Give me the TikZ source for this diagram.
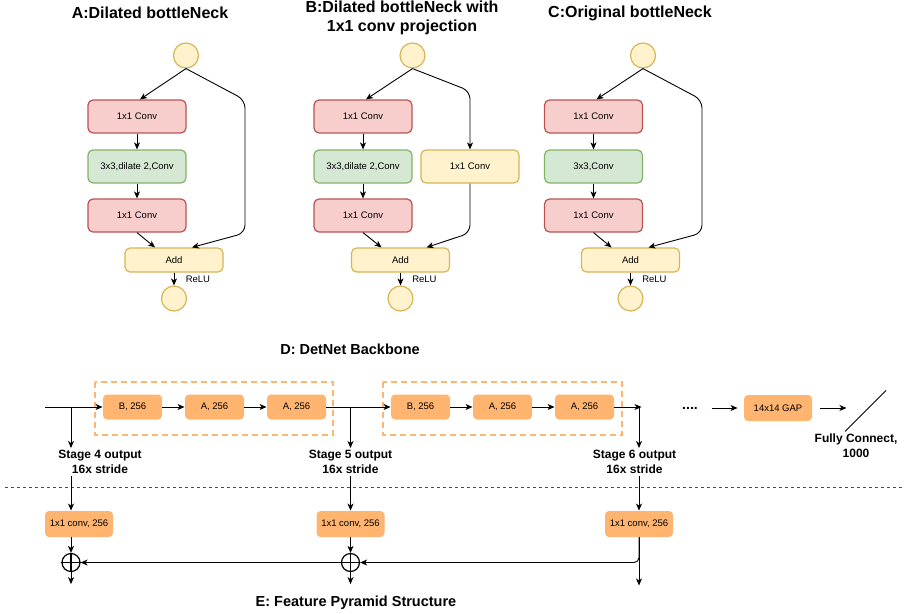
\documentclass[tikz,border=0pt]{standalone}
\usepackage{fontspec}
\setmainfont{Liberation Sans}
\usetikzlibrary{arrows.meta}
\definecolor{redfill}{HTML}{F8CECC}
\definecolor{redline}{HTML}{B85450}
\definecolor{greenfill}{HTML}{D5E8D4}
\definecolor{greenline}{HTML}{82B366}
\definecolor{yellowfill}{HTML}{FFF2CC}
\definecolor{yellowline}{HTML}{D6B656}
\definecolor{orangefill}{HTML}{FFB570}
\tikzset{>/.tip={Stealth[length=7pt,width=6pt,inset=2pt]},
  box/.style={rectangle, rounded corners=5pt, line width=1.2pt, inner sep=0pt, minimum width=98pt, font=\fontsize{9.5}{11}\selectfont},
  convr/.style={box, draw=redline, fill=redfill, minimum height=33pt},
  convg/.style={box, draw=greenline, fill=greenfill, minimum height=33pt},
  convy/.style={box, draw=yellowline, fill=yellowfill, minimum height=33pt},
  addbox/.style={box, draw=yellowline, fill=yellowfill, minimum height=24pt},
  inout/.style={circle, draw=yellowline, fill=yellowfill, line width=1.2pt, minimum size=25pt, inner sep=0pt},
  relu/.style={midway, anchor=west, xshift=8pt, font=\fontsize{9.5}{11}\selectfont},
  block/.style={rectangle, rounded corners=4pt, fill=orangefill, inner sep=0pt, minimum width=59pt, minimum height=25pt, font=\fontsize{9.5}{11}\selectfont},
  convblock/.style={block, minimum width=68pt, minimum height=26pt},
  stagebox/.style={draw=orangefill, dash pattern=on 6pt off 4pt, line width=1.3pt},
  sepline/.style={draw=red, dash pattern=on 3pt off 3pt, line width=0.8pt},
  heading/.style={font=\fontsize{16}{19.5}\selectfont\bfseries, align=center, inner sep=0pt},
  heading2/.style={font=\fontsize{14.5}{17}\selectfont\bfseries, inner sep=0pt},
  stagetext/.style={font=\fontsize{12}{14.5}\selectfont\bfseries, align=center, inner sep=2pt},
  plus/.style={circle, draw, line width=1.2pt, minimum size=18pt, inner sep=0pt}}
\begin{document}
\begin{tikzpicture}[x=1pt, y=-1pt, line width=0.9pt]
\useasboundingbox (0,0) rectangle (904,613);
% bottlenecks
\node[heading] (ta) at (150,13) {A:Dilated bottleNeck};
\node[heading] (tb) at (402,18) {B:Dilated bottleNeck with\\1x1 conv projection};
\node[heading] (tc) at (630,13) {C:Original bottleNeck};
\node[inout] (a0) at (186,55.5) {};
\node[convr] (a1) at (137,116.5) {1x1 Conv};
\node[convg] (a2) at (137,166.5) {3x3,dilate 2,Conv};
\node[convr] (a3) at (137,215.5) {1x1 Conv};
\node[addbox] (a4) at (174,260) {Add};
\node[inout] (a5) at (174,298.5) {};
\node[inout] (b0) at (412.5,55.5) {};
\node[convr] (b1) at (363,116.5) {1x1 Conv};
\node[convg] (b2) at (363,166.5) {3x3,dilate 2,Conv};
\node[convr] (b3) at (363,215.5) {1x1 Conv};
\node[convy] (b6) at (470,166.5) {1x1 Conv};
\node[addbox] (b4) at (400.5,260) {Add};
\node[inout] (b5) at (400.5,298.5) {};
\node[inout] (c0) at (643,55.5) {};
\node[convr] (c1) at (593.5,116.5) {1x1 Conv};
\node[convg] (c2) at (593.5,166.5) {3x3,Conv};
\node[convr] (c3) at (593.5,215.5) {1x1 Conv};
\node[addbox] (c4) at (630.5,260) {Add};
\node[inout] (c5) at (630.5,298.5) {};
\foreach \p in {a,b,c}
{
  \draw[->] (\p0.south) -- ([xshift=3pt]\p1.north);
  \draw[->] (\p1) -- (\p2);
  \draw[->] (\p2) -- (\p3);
  \draw[->] (\p3.south) -- ([xshift=-19pt]\p4.north);
  \draw[->] (\p4) -- (\p5) node[relu] {ReLU};
}
\foreach \p/\r in {a/245,c/702}
  \draw[->, rounded corners=8pt] (\p0.south) -- (\r,100) -- (\r,233) -- ([xshift=18pt]\p4.north);
\draw[->, rounded corners=8pt] (b0.south) -- (470,91) -- (b6.north);
\draw[->, rounded corners=8pt] (b6.south) -- (470,233) -- ([xshift=26pt]b4.north);
% backbone
\node[heading2] (td) at (350,349) {D: DetNet Backbone};
\draw[stagebox] (95,382) rectangle (333,435);
\draw[stagebox] (383,382) rectangle (622,435);
\foreach \i/\x/\t in {1/132.5/B,2/214.5/A,3/296.5/A,4/420.5/B,5/502.5/A,6/584.5/A}
  \node[block] (d\i) at (\x,407) {\t, 256};
\coordinate (din) at (45,407);
\coordinate (s4) at (71,407);
\coordinate (s5) at (350.5,407);
\coordinate (s6) at (639,407);
\draw[->] (din) -- (d1);
\foreach \i/\j in {1/2,2/3,3/4,4/5,5/6}
  \draw[->] (d\i) -- (d\j);
\draw[->] (d6) -- ++(57,0);
\node[font=\fontsize{14}{16}\selectfont\bfseries, anchor=base, inner sep=0pt] (dd) at (690,409) {....};
\node[convblock] (gap) at (778,408) {14x14 GAP};
\draw[->] ([xshift=-32pt]gap.west) -- ([xshift=-6pt]gap.west);
\draw[->] ([xshift=8pt]gap.east) -- ([xshift=34pt]gap.east);
\node[stagetext] (fc) at (856,445.5) {Fully Connect,\\1000};
\draw ([xshift=-11pt]fc.north) -- ++(41,-41);
\foreach \s in {s4,s5,s6}
  \draw[->] (\s) -- ++(0,41);
\node[stagetext] (t4) at (100,462) {Stage 4 output\\16x stride};
\node[stagetext] (t5) at (350.5,462) {Stage 5 output\\16x stride};
\node[stagetext] (t6) at (634.5,462) {Stage 6 output\\16x stride};
\draw[sepline] (5,487) -- (904,487);
% pyramid
\foreach \i/\x in {1/79,2/350.5,3/639}
  \node[convblock] (e\i) at (\x,524) {1x1 conv, 256};
\node[plus] (o1) at (71,562.5) {};
\node[plus] (o2) at (350.5,562.5) {};
\foreach \o in {o1,o2}
  \draw[line width=1.2pt] (\o.north) -- (\o.south) (\o.west) -- (\o.east);
\draw[->] (t4.south -| s4) -- (e1.north -| s4);
\draw[->] (t5.south -| s5) -- (e2.north);
\draw[->] (t6.south -| s6) -- (e3.north);
\draw[->] (e1.south -| s4) -- (o1);
\draw[->] (e2) -- (o2);
\foreach \o in {o1,o2}
  \draw[->] (\o.south) -- ++(0,12);
\draw[->] (o2) -- (o1);
\draw[->, rounded corners=5pt] (e3.south) -- (e3.south |- o2) -- (o2);
\draw[->] (e3.south) -- ++(0,48);
\node[heading2] (te) at (356,603) {E: Feature Pyramid Structure};
\end{tikzpicture}
\end{document}
